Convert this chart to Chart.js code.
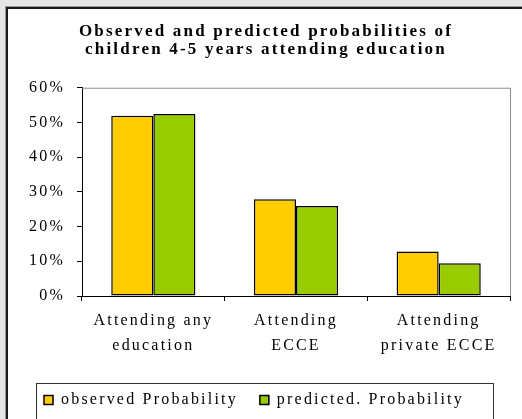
<!DOCTYPE html>
<html>
<head>
<meta charset="utf-8">
<script src="https://cdn.jsdelivr.net/npm/chart.js@4.4.1/dist/chart.umd.min.js"></script>
<style>
  html, body { margin: 0; padding: 0; background: #e6e6e6; overflow: hidden; }
  .frame {
    position: absolute; left: 6px; top: 7px; width: 800px; height: 800px;
    background: #fff; border-left: 2px solid #1a1a1a; border-top: 2px solid #1a1a1a;
    box-shadow: -1px -1px 0 #9a9a9a;
  }
  #chart { position: absolute; left: 0; top: 0; }
</style>
</head>
<body>
<div class="frame"></div>
<canvas id="chart" width="522" height="419"></canvas>
<script>
const categories = [
  ['Attending any', 'education'],
  ['Attending', 'ECCE'],
  ['Attending', 'private ECCE'],
];
const observed = [0.519, 0.279, 0.128];
const predicted = [0.524, 0.259, 0.094];
const seriesNames = ['observed Probability', 'predicted. Probability'];
const titleLines = [
  'Observed and predicted probabilities of',
  'children 4-5 years attending education',
];

const serif = "'Liberation Serif', 'Times New Roman', serif";

// spread the text out a little, like the old office renderer did
const letterSpacing = {
  id: 'letterSpacing',
  beforeLayout(chart) { chart.ctx.letterSpacing = '2.2px'; },
  beforeDraw(chart) { chart.ctx.letterSpacing = '2.2px'; },
};

// grey top/right edge of the plot area and the box round the legend
const frames = {
  id: 'frames',
  afterDraw(chart) {
    const { ctx, chartArea: a, legend } = chart;
    ctx.save();
    ctx.lineWidth = 1;
    ctx.strokeStyle = '#8c8c8c';
    ctx.beginPath();
    ctx.moveTo(a.left, a.top + 0.5);
    ctx.lineTo(Math.round(a.right) + 0.5, a.top + 0.5);
    ctx.lineTo(Math.round(a.right) + 0.5, a.bottom);
    ctx.stroke();

    const boxes = legend.legendHitBoxes;
    const left = Math.round(Math.min(...boxes.map(b => b.left))) - 8;
    const right = Math.round(Math.max(...boxes.map(b => b.left + b.width))) + 29;
    const top = Math.round(boxes[0].top) - 9;
    ctx.strokeStyle = '#333';
    ctx.strokeRect(left + 0.5, top + 0.5, right - left, 60);
    ctx.restore();
  },
};

const ctx = document.getElementById('chart');
const config = {
  type: 'bar',
  data: {
    labels: categories,
    datasets: [
      {
        label: seriesNames[0],
        data: observed,
        backgroundColor: '#FFCC00',
        borderColor: '#000',
        borderWidth: 1.5,
        borderSkipped: false,
      },
      {
        label: seriesNames[1],
        data: predicted,
        backgroundColor: '#99CC00',
        borderColor: '#000',
        borderWidth: 1.5,
        borderSkipped: false,
      },
    ],
  },
  options: {
    responsive: false,
    animation: false,
    devicePixelRatio: 1,
    layout: { padding: { left: 22, right: 12, top: 0, bottom: 1 } },
    datasets: { bar: { categoryPercentage: 0.59, barPercentage: 1.0 } },
    plugins: {
      title: {
        display: true,
        text: titleLines,
        color: '#000',
        font: { family: serif, size: 17, weight: 'bold', lineHeight: 1.08 },
        padding: { top: 22, bottom: 29 },
      },
      legend: {
        position: 'bottom',
        align: 'start',
        labels: {
          color: '#000',
          font: { family: serif, size: 16 },
          boxWidth: 9,
          boxHeight: 9,
          padding: 22,
        },
      },
      tooltip: { enabled: false },
    },
    scales: {
      x: {
        grid: {
          offset: true,
          drawOnChartArea: false,
          drawTicks: true,
          tickLength: 5,
          color: '#000',
        },
        border: { display: true, color: '#000', width: 1 },
        ticks: {
          color: '#000',
          padding: 7,
          maxRotation: 0,
          autoSkip: false,
          font: { family: serif, size: 16, lineHeight: 1.56 },
        },
        afterFit(scale) { scale.height = 74; },
      },
      y: {
        min: 0,
        max: 0.6,
        grid: {
          drawOnChartArea: false,
          drawTicks: true,
          tickLength: 5,
          color: '#000',
        },
        border: { display: true, color: '#000', width: 1 },
        ticks: {
          stepSize: 0.1,
          color: '#000',
          padding: 12,
          font: { family: serif, size: 16 },
          callback: function(value) {
            return Math.round(value * 100) + '%';
          },
        },
        afterFit(scale) { scale.width = 60; },
      },
    },
  },
  plugins: [letterSpacing, frames],
};
const myChart = new Chart(ctx, config);
</script>
</body>
</html>
